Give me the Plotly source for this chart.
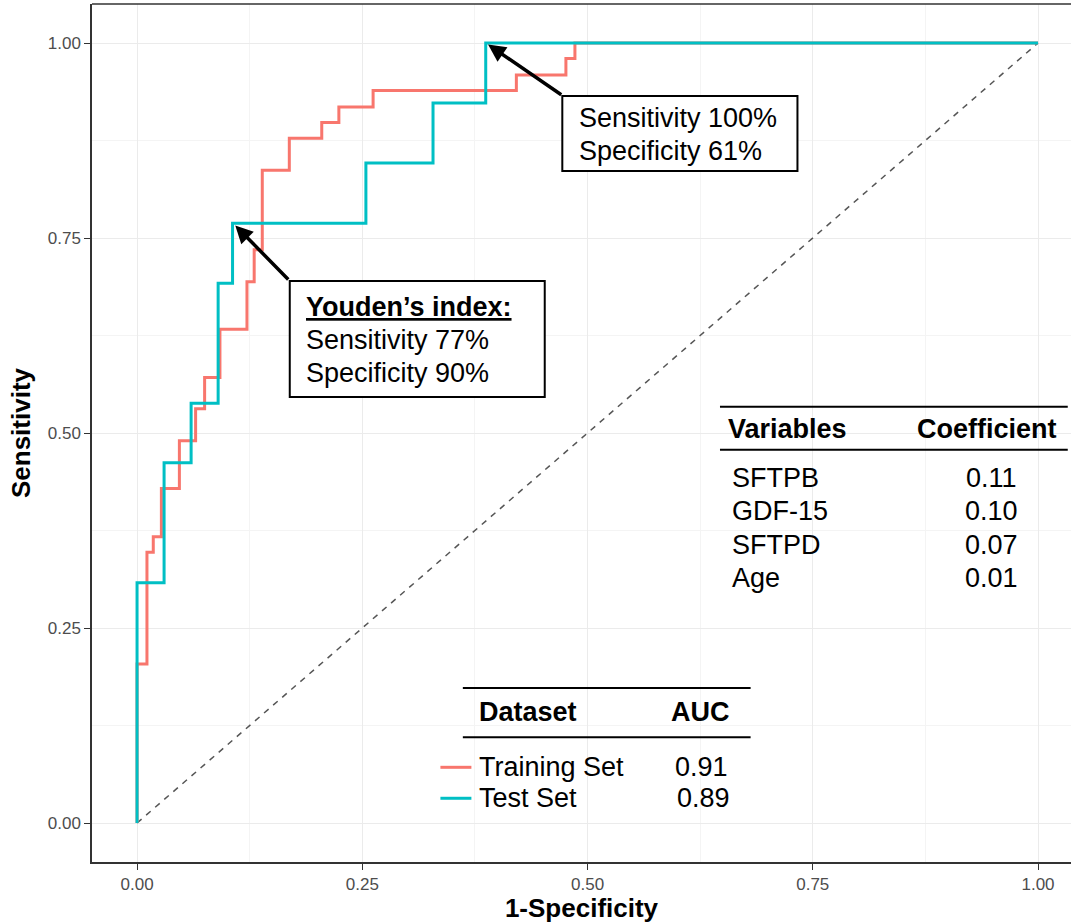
import plotly.graph_objects as go

# ---- data ----
train_fpr = [0.0, 0.0, 0.011, 0.018, 0.027, 0.047, 0.065, 0.075, 0.092, 0.122, 0.130, 0.139,
             0.169, 0.205, 0.224, 0.262, 0.421, 0.476, 0.486, 1.0]
train_tpr = [0.0, 0.204, 0.347, 0.367, 0.429, 0.490, 0.531, 0.571, 0.633, 0.694, 0.735, 0.837,
             0.878, 0.898, 0.918, 0.939, 0.959, 0.980, 1.0, 1.0]
test_fpr = [0.0, 0.0, 0.030, 0.060, 0.090, 0.106, 0.254, 0.3285, 0.387, 1.0]
test_tpr = [0.0, 0.308, 0.462, 0.538, 0.692, 0.769, 0.846, 0.923, 1.0, 1.0]

tick_vals = [0.0, 0.25, 0.5, 0.75, 1.0]
tick_text = ["0.00", "0.25", "0.50", "0.75", "1.00"]

variables = ["SFTPB", "GDF-15", "SFTPD", "Age"]
coefficients = ["0.11", "0.10", "0.07", "0.01"]
datasets = ["Training Set", "Test Set"]
aucs = ["0.91", "0.89"]

RED = "#F8766D"
TEAL = "#00BFC4"
FONT = "Liberation Sans, Arial, sans-serif"

fig = go.Figure()
fig.add_trace(go.Scatter(x=[0, 1], y=[0, 1], mode="lines",
                         line=dict(color="#555555", width=1.5, dash="6px,6px"),
                         showlegend=False, hoverinfo="skip"))
fig.add_trace(go.Scatter(x=train_fpr, y=train_tpr, mode="lines", line_shape="hv",
                         line=dict(color=RED, width=3), name=datasets[0], showlegend=False))
fig.add_trace(go.Scatter(x=test_fpr, y=test_tpr, mode="lines", line_shape="hv",
                         line=dict(color=TEAL, width=3), name=datasets[1], showlegend=False))

shapes = []
annotations = []

def line(x0, y0, x1, y1, w=2, color="black"):
    shapes.append(dict(type="line", xref="x", yref="y", x0=x0, y0=y0, x1=x1, y1=y1,
                       line=dict(color=color, width=w)))

def text(x, y, s, anchor="left", size=27, bold=False):
    annotations.append(dict(x=x, y=y, xref="x", yref="y", text=("<b>%s</b>" % s) if bold else s,
                            showarrow=False, xanchor=anchor, yanchor="middle",
                            font=dict(family=FONT, size=size, color="black")))

# top border of panel
shapes.append(dict(type="line", xref="paper", yref="paper", x0=0, x1=1, y0=1, y1=1,
                   line=dict(color="#333333", width=1.5)))

# Youden box
shapes.append(dict(type="rect", xref="x", yref="y", x0=0.1695, x1=0.4525, y0=0.546, y1=0.695,
                   line=dict(color="black", width=2), fillcolor="white", layer="above"))
text(0.1855, 0.662, "<u>Youden’s index:</u>", bold=True)
text(0.1855, 0.619, "Sensitivity 77%")
text(0.1855, 0.577, "Specificity 90%")

# second box
shapes.append(dict(type="rect", xref="x", yref="y", x0=0.472, x1=0.733, y0=0.836, y1=0.932,
                   line=dict(color="black", width=2), fillcolor="white", layer="above"))
text(0.488, 0.904, "Sensitivity 100%")
text(0.488, 0.861, "Specificity 61%")

# arrows
for tip, tail in [((0.109, 0.766), (0.1695, 0.695)), ((0.3896, 0.998), (0.4725, 0.9324))]:
    annotations.append(dict(x=tip[0], y=tip[1], ax=tail[0], ay=tail[1], xref="x", yref="y",
                            axref="x", ayref="y", text="", showarrow=True, arrowhead=2,
                            arrowsize=1, arrowwidth=3.5, arrowcolor="black", standoff=0))

# variables table
line(0.647, 0.5335, 1.033, 0.5335)
line(0.647, 0.4784, 1.033, 0.4784)
text(0.6535, 0.5053, "Variables", bold=True)
text(0.943, 0.5053, "Coefficient", anchor="center", bold=True)
row_y = [0.4425, 0.400, 0.3565, 0.314]
for v, c, yy in zip(variables, coefficients, row_y):
    text(0.658, yy, v)
    text(0.948, yy, c, anchor="center")

# dataset table
line(0.3616, 0.173, 0.681, 0.173)
line(0.3616, 0.110, 0.681, 0.110)
text(0.3775, 0.1427, "Dataset", bold=True)
text(0.625, 0.1427, "AUC", anchor="center", bold=True)
for ds, a, yy, col, xc in zip(datasets, aucs, [0.0714, 0.0317], [RED, TEAL], [0.6264, 0.629]):
    line(0.3367, yy, 0.3711, yy, w=3, color=col)
    text(0.3775, yy, ds)
    text(xc, yy, a, anchor="center")

fig.update_layout(
    width=1071, height=923,
    margin=dict(l=92, r=0, t=4, b=61),
    plot_bgcolor="white", paper_bgcolor="white",
    shapes=shapes, annotations=annotations,
    font=dict(family=FONT),
)
axis_common = dict(
    tickvals=tick_vals, ticktext=tick_text, showgrid=True, gridcolor="#EBEBEB", gridwidth=1.2,
    zeroline=False, showline=True, linecolor="#333333", linewidth=1.5,
    ticks="outside", ticklen=6, tickwidth=1.2, tickcolor="#333333",
    tickfont=dict(family=FONT, size=17, color="#4D4D4D"),
    minor=dict(tickvals=[0.125, 0.375, 0.625, 0.875], showgrid=True, gridcolor="#F4F4F4",
               gridwidth=0.8, ticks=""),
)
fig.update_xaxes(range=[-0.05, 1.0366], title=dict(text="<b>1-Specificity</b>",
                 font=dict(family=FONT, size=26, color="black"), standoff=4), **axis_common)
fig.update_yaxes(range=[-0.05, 1.05], title=dict(text="<b>Sensitivity</b>",
                 font=dict(family=FONT, size=26, color="black"), standoff=10), **axis_common)

fig.write_html("out.html")
